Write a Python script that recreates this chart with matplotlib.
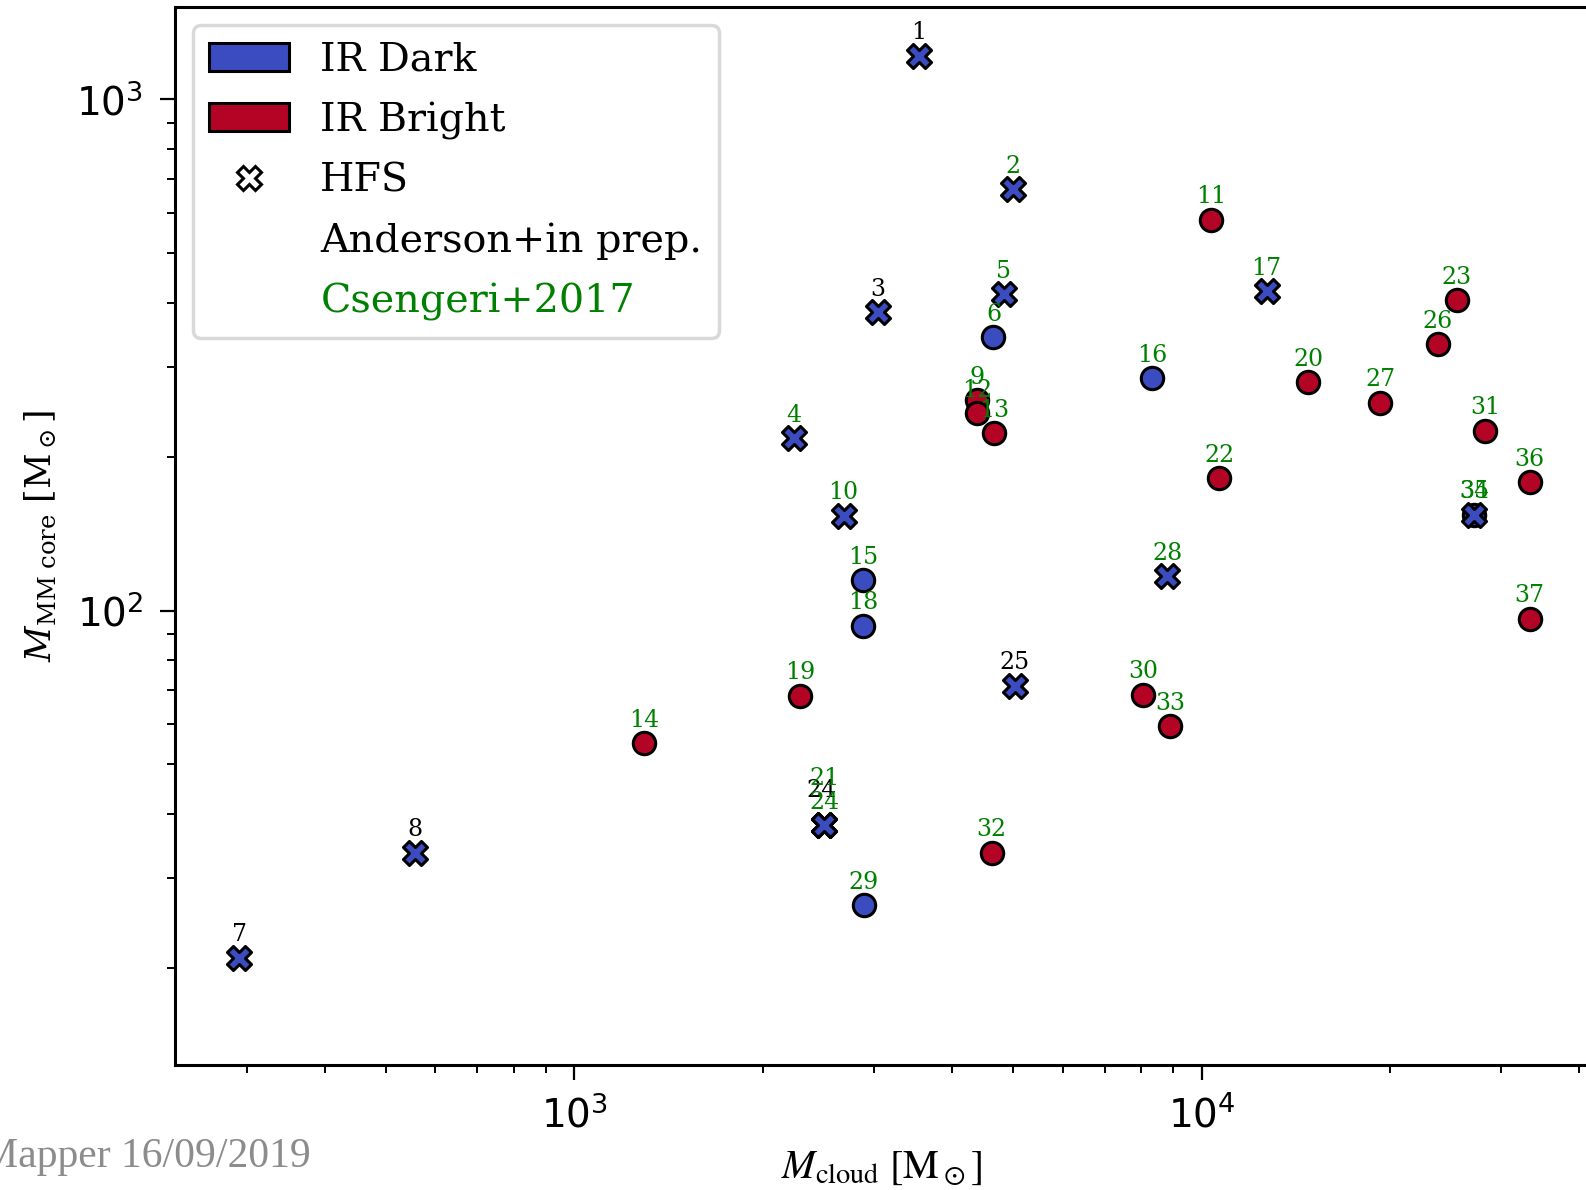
import matplotlib
matplotlib.use('Agg')
import matplotlib.pyplot as plt
from matplotlib.patches import Patch
from matplotlib.lines import Line2D

# Core / cloud masses
names = ['1', '2', '3', '4', '5', '6', '7', '8', '9', '10', '11', '12', '13',
         '14', '15', '16', '17', '18', '19', '20', '21', '22', '23', '24',
         '24', '25', '26', '27', '28', '29', '30', '31', '32', '33', '34',
         '35', '36', '37']
m_cloud = [3536, 4996, 3048, 2239, 4831, 4656, 292, 556, 4378, 2686, 10347,
           4387, 4672, 1292, 2883, 8341, 12690, 2883, 2289, 14780, 2503,
           10662, 25530, 2503, 2503, 5033, 23770, 19250, 8820, 2893, 8067,
           28320, 4623, 8917, 27190, 27190, 33340, 33340]
m_core = [1218, 667, 383, 217.6, 415.6, 343, 20.9, 33.6, 258.2, 153.2, 582,
          243.2, 222.3, 55.0, 114.5, 284.7, 421, 93.3, 68.1, 279.7, 38.0,
          181.4, 404.4, 38.0, 38.0, 71.3, 332.4, 255.2, 116.6, 26.5, 68.4,
          224.7, 33.6, 59.4, 153.9, 153.9, 178.1, 96.3]
ir_type = ['dark', 'dark', 'dark', 'dark', 'dark', 'dark', 'dark', 'dark',
           'bright', 'dark', 'bright', 'bright', 'bright', 'bright', 'dark',
           'dark', 'dark', 'dark', 'bright', 'bright', 'dark', 'bright',
           'bright', 'dark', 'dark', 'dark', 'bright', 'bright', 'dark',
           'dark', 'bright', 'bright', 'bright', 'bright', 'dark', 'dark',
           'bright', 'bright']
hfs = [True, True, True, True, True, False, True, True, False, True, False,
       False, False, False, False, False, True, False, False, False, True,
       False, False, True, True, True, False, False, True, False, False,
       False, False, False, False, True, False, False]
source = ['A', 'C', 'A', 'C', 'C', 'C', 'A', 'A', 'C', 'C', 'C', 'C', 'C',
          'C', 'C', 'C', 'C', 'C', 'C', 'C', 'C', 'C', 'C', 'A', 'C', 'A',
          'C', 'C', 'C', 'C', 'C', 'C', 'C', 'C', 'C', 'C', 'C', 'C']

blue = '#3b4cc0'
red = '#b40426'
green = 'green'
colors = {'dark': blue, 'bright': red}
src_color = {'A': 'black', 'C': green}

# extra label lift (points) where labels pile up on one marker
label_lift = {20: 17, 23: 8.5}
label_nudge = {23: -2}

W, H = 1586, 1190
fig = plt.figure(figsize=(W / 100, H / 100), dpi=100)
ax = fig.add_axes([175 / W, 1 - 1065 / H, 1414 / W, 1057.7 / H])
ax.set_xscale('log')
ax.set_yscale('log')
ax.set_xlim(230.7, 4.145e4)
ax.set_ylim(12.9, 1515)

for i in range(len(names)):
    mk = 'X' if hfs[i] else 'o'
    ax.scatter(m_cloud[i], m_core[i], s=300 if hfs[i] else 260, marker=mk,
               c=colors[ir_type[i]], edgecolors='black', linewidths=2.2,
               zorder=3)

# black labels first, green drawn on top
order = [i for i in range(len(names)) if source[i] == 'A'] + \
        [i for i in range(len(names)) if source[i] == 'C']
for i in order:
    ax.annotate(names[i], (m_cloud[i], m_core[i]),
                xytext=(label_nudge.get(i, 0), 16.5 + label_lift.get(i, 0)),
                textcoords='offset points', ha='center', va='center',
                fontsize=17, family='DejaVu Serif',
                color=src_color[source[i]], zorder=4)

for s in ax.spines.values():
    s.set_linewidth(2.2)
ax.tick_params(which='major', length=11, width=1.6, labelsize=28, pad=12)
ax.tick_params(which='minor', length=6, width=1.4)
ax.tick_params(axis='x', which='major', pad=11)

ax.set_ylabel(r'$M_{\rm MM\ core}\ [\rm M_\odot]$', fontsize=25,
              math_fontfamily='dejavuserif', labelpad=12)
ax.set_xlabel(r'$M_{\rm cloud}\ [\rm M_\odot]$', fontsize=29,
              math_fontfamily='stix', labelpad=9)

handles = [Patch(facecolor=blue, edgecolor='black', linewidth=2.2),
           Patch(facecolor=red, edgecolor='black', linewidth=2.2),
           Line2D([], [], ls='none', marker='X', markersize=17,
                  markerfacecolor='white', markeredgecolor='black',
                  markeredgewidth=2.2),
           Line2D([], [], ls='none'),
           Line2D([], [], ls='none')]
labels = ['IR Dark', 'IR Bright', 'HFS', 'Anderson+in prep.', 'Csengeri+2017']
leg = ax.legend(handles, labels, loc='upper left',
                prop={'family': 'DejaVu Serif', 'size': 28.5},
                handlelength=2.0, handleheight=0.7, labelspacing=0.58,
                borderpad=0.42, borderaxespad=0.45, handletextpad=0.8,
                framealpha=1, edgecolor='0.85')
leg.get_frame().set_linewidth(2.5)
leg.get_texts()[4].set_color(green)

fig.text(311 / W, 1 - 1167 / H, 'Mapper 16/09/2019', ha='right',
         va='baseline', fontsize=30, family='Liberation Serif', color='#8c8c8c')

fig.savefig('out.png', dpi=100)
